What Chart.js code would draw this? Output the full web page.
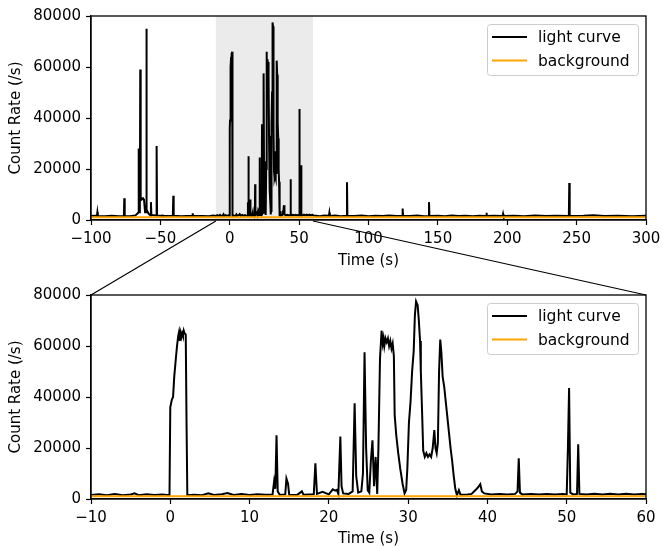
<!DOCTYPE html>
<html>
<head>
<meta charset="utf-8">
<script src="https://cdn.jsdelivr.net/npm/chart.js@4/dist/chart.umd.min.js"></script>
<style>
body{margin:0;width:663px;height:546px;overflow:hidden;background:#fff;position:relative}
canvas{position:absolute;left:0}
#topChart{top:0}
#botChart{top:279px}
#links{top:0;pointer-events:none}
</style>
</head>
<body>
<canvas id="topChart" width="663" height="280"></canvas>
<canvas id="botChart" width="663" height="280"></canvas>
<canvas id="links" width="663" height="546"></canvas>
<script>
// light curve (time in s, rate in counts/s)
const lcTime=[
 -100,-97,-95.7,-95.4,-95.1,-90,-85,-80,-76.3,-76,-75.7,-72,-68,-66.5,-65.8,-65.6,-65.3,-64.8,-64.5,-64.2,-63.5,-62.5,-61.8,-61,-60.3,-60.1,-59.8,-58.5,-57.1,-56.8,-56.5,-53,-52.7,-52.4,-48.8,-48.6,-48.3,-41,-40.7,-40.4,-35,-27,-26.7,-26.4,-20,-15,-12,
 -10,-9,-8,-7,-6,-5,-4.5,-4,-3,-2,-1,-0.1,0,0.2,0.35,0.5,0.7,0.85,1.0,1.1,1.2,1.3,1.4,1.5,1.6,1.7,1.8,1.95,2.05,2.15,
 3,4,4.8,5.5,6.5,7.2,8,9,10,11,12,12.9,13.1,13.25,13.4,13.55,13.8,14.5,14.65,14.85,15,16,16.6,16.8,17.5,18.1,18.3,18.5,19.2,19.6,20,20.5,20.8,21,21.2,21.45,21.6,21.8,22.5,
 23,23.25,23.45,23.7,24.1,24.3,24.5,24.7,24.9,25.1,25.3,25.5,25.7,25.9,26.1,26.25,26.45,26.65,26.8,26.9,27,27.15,27.3,27.45,27.6,27.75,27.9,28.05,28.2,28.3,28.5,28.75,29,29.3,29.55,29.75,29.9,
 30.1,30.3,30.5,30.7,30.85,31,31.2,31.35,31.5,31.6,31.75,31.9,32.1,32.3,32.5,32.7,32.9,33.1,33.3,33.45,33.6,33.75,33.9,34.05,34.2,34.35,34.55,34.75,34.95,35.15,35.35,35.55,35.75,35.95,36.15,36.4,36.6,
 37.5,38,38.5,38.8,39.1,39.3,39.6,40.5,41.5,42.5,43.5,43.8,43.95,44.1,44.4,45.5,46.5,47.5,48.5,49.5,50,50.15,50.3,50.45,50.8,51.3,51.45,51.6,52.5,53.5,54.5,55.5,56.5,57.5,58.5,59.5,60.5,
 62,65,68,71.5,71.8,72.1,76,80,84.2,84.5,84.8,90,95,100,105,110,115,120,124.3,124.6,124.9,130,135,140,143.3,143.6,143.9,150,155,160,165,170,175,180,184.7,185,185.3,190,196.7,197,197.3,205,212,220,228,235,244.4,244.7,245,255,262,270,280,290,300
];
const lcRate=[
 1600,1700,1700,3000,1600,1500,1700,1500,1600,8500,1600,1500,1800,2500,3000,28000,3000,4000,59000,9000,8000,8500,8000,3000,3000,75000,4000,2500,1800,7000,2000,1800,29000,1800,1600,2200,1600,1700,9500,1700,1500,1700,2600,1600,1600,1500,1800,
 1600,1900,1500,2000,1500,1800,2200,1500,1900,1600,1800,1500,36000,39000,40000,48000,55000,60000,64000,65500,62000,65000,63500,65000,64000,66000,65000,64500,30000,1500,
 1700,1500,2200,1600,1900,2300,1600,2000,1600,1900,1700,1800,7000,4000,25000,3000,1700,1800,8000,6000,1700,1600,3000,1700,1800,1900,14000,2000,2800,2300,1800,3800,3300,3600,2000,24500,5000,2200,2000,
 3000,37500,9000,2500,3000,10000,57500,20000,3500,2500,15000,23000,5000,16500,2000,20000,55000,66000,61000,63000,60000,63000,61500,63000,60000,62000,59000,61000,56000,33000,25000,18000,12000,6000,2200,3500,12000,
 30000,38000,50000,58000,72000,77500,76000,70000,62000,50000,35000,19000,16500,18000,16500,17500,16500,20000,27000,20000,18000,22000,50000,62500,57000,48000,44000,38000,32000,26000,20000,15000,9000,4000,1500,3500,1700,
 1800,2000,3500,4500,5800,3000,2200,1800,2000,1800,2000,3000,16000,2500,1800,2000,1800,2000,1800,2000,1800,20000,43500,2500,1800,2000,21500,2000,1800,2100,1800,2100,1800,2100,1800,2000,1800,
 1700,1500,1800,1700,2800,1600,1800,1500,1700,14800,1700,1600,1800,1500,1700,1600,1800,1600,1700,4500,1700,1600,1800,1500,1600,7000,1600,1700,1500,1800,1600,1700,1500,1700,1600,2800,1600,1700,1600,2400,1600,1700,1500,1800,1600,1700,1600,14500,1600,1700,1900,1600,1700,1500,1700
];
const bgRate=1100;
const fullRange=[-100,300];
const zoomRange=[-10,60];
const topXTicks=[-100,-50,0,50,100,150,200,250,300];
const botXTicks=[-10,0,10,20,30,40,50,60];
const yTicks=[0,20000,40000,60000,80000];
const seriesNames=['light curve','background'];
const seriesColors=['#000000','#ffa500'];

const FONT='"DejaVu Sans", sans-serif';
Chart.defaults.font.family=FONT;
Chart.defaults.font.size=15;
Chart.defaults.color='#000';

function minus(v){return v<0?'\u2212'+Math.abs(v):String(v);}

const lcPoints=lcTime.map((t,i)=>({x:t,y:lcRate[i]}));
const bgPoints=fullRange.map(t=>({x:t,y:bgRate}));

const framePlugin={
  id:'frame',
  beforeDatasetsDraw(chart,args,opts){
    if(!opts.span)return;
    const a=chart.chartArea,sx=chart.scales.x,ctx=chart.ctx;
    const x0=sx.getPixelForValue(opts.span[0]),x1=sx.getPixelForValue(opts.span[1]);
    ctx.save();
    ctx.fillStyle='rgba(128,128,128,0.16)';
    ctx.fillRect(x0,a.top,x1-x0,a.bottom-a.top);
    ctx.restore();
  },
  afterDraw(chart){
    const a=chart.chartArea,ctx=chart.ctx;
    ctx.save();
    ctx.strokeStyle='#000';ctx.lineWidth=1.3;
    ctx.strokeRect(a.left,a.top,a.right-a.left,a.bottom-a.top);
    // legend
    const w=151,h=51,bx=a.right-8-w,by=a.top+8;
    ctx.beginPath();
    if(ctx.roundRect)ctx.roundRect(bx+0.5,by+0.5,w,h,3);else ctx.rect(bx+0.5,by+0.5,w,h);
    ctx.fillStyle='rgba(255,255,255,0.8)';ctx.fill();
    ctx.strokeStyle='#cccccc';ctx.lineWidth=1;ctx.stroke();
    ctx.font='15.5px '+FONT;ctx.textBaseline='middle';ctx.textAlign='left';
    chart.data.datasets.forEach((d,i)=>{
      const y=by+13+i*23.5;
      ctx.strokeStyle=d.borderColor;ctx.lineWidth=2.2;
      ctx.beginPath();ctx.moveTo(bx+5,y);ctx.lineTo(bx+40,y);ctx.stroke();
      ctx.fillStyle='#000';ctx.fillText(d.label,bx+51,y+1);
    });
    ctx.restore();
  }
};

function makeChart(id,range,xTicks,span,titlePad){
  return new Chart(document.getElementById(id),{
    type:'line',
    data:{datasets:[
      {label:seriesNames[0],data:lcPoints,borderColor:seriesColors[0],borderWidth:2,pointRadius:0,tension:0,order:1},
      {label:seriesNames[1],data:bgPoints,borderColor:seriesColors[1],borderWidth:2,pointRadius:0,order:0}
    ]},
    options:{
      responsive:false,animation:false,
      layout:{padding:{top:16,right:17,left:0,bottom:0}},
      plugins:{legend:{display:false},tooltip:{enabled:false},frame:{span:span}},
      scales:{
        x:{type:'linear',min:range[0],max:range[1],
          afterBuildTicks:s=>{s.ticks=xTicks.map(v=>({value:v}));},
          afterFit:s=>{s.height=60;s.paddingLeft=0;s.paddingRight=0;},
          grid:{display:true,drawOnChartArea:false,drawTicks:true,tickLength:5,tickWidth:1.2,tickColor:'#000'},
          border:{display:true,color:'#000',width:1.3},
          ticks:{callback:minus,padding:5,maxRotation:0,autoSkip:false},
          title:{display:true,text:'Time (s)',padding:{top:0,bottom:titlePad}}
        },
        y:{type:'linear',min:0,max:80000,
          afterBuildTicks:s=>{s.ticks=yTicks.map(v=>({value:v}));},
          afterFit:s=>{s.width=91;},
          grid:{display:true,drawOnChartArea:false,drawTicks:true,tickLength:5,tickWidth:1.2,tickColor:'#000'},
          border:{display:true,color:'#000',width:1.3},
          ticks:{callback:v=>String(v),padding:5},
          title:{display:true,text:'Count Rate (/s)',padding:{top:7,bottom:0}}
        }
      }
    },
    plugins:[framePlugin]
  });
}

const topChart=makeChart('topChart',fullRange,topXTicks,zoomRange,10);
const botChart=makeChart('botChart',zoomRange,botXTicks,null,11);

// zoom connector lines between the two panels
(function(){
  const ctx=document.getElementById('links').getContext('2d');
  const ta=topChart.chartArea,ba=botChart.chartArea,off=279;
  const sx=topChart.scales.x;
  ctx.strokeStyle='#000';ctx.lineWidth=1.2;
  ctx.beginPath();
  ctx.moveTo(sx.getPixelForValue(zoomRange[0]),ta.bottom+1);ctx.lineTo(ba.left,ba.top+off);
  ctx.moveTo(sx.getPixelForValue(zoomRange[1]),ta.bottom+1);ctx.lineTo(ba.right,ba.top+off);
  ctx.stroke();
})();
</script>
</body>
</html>
